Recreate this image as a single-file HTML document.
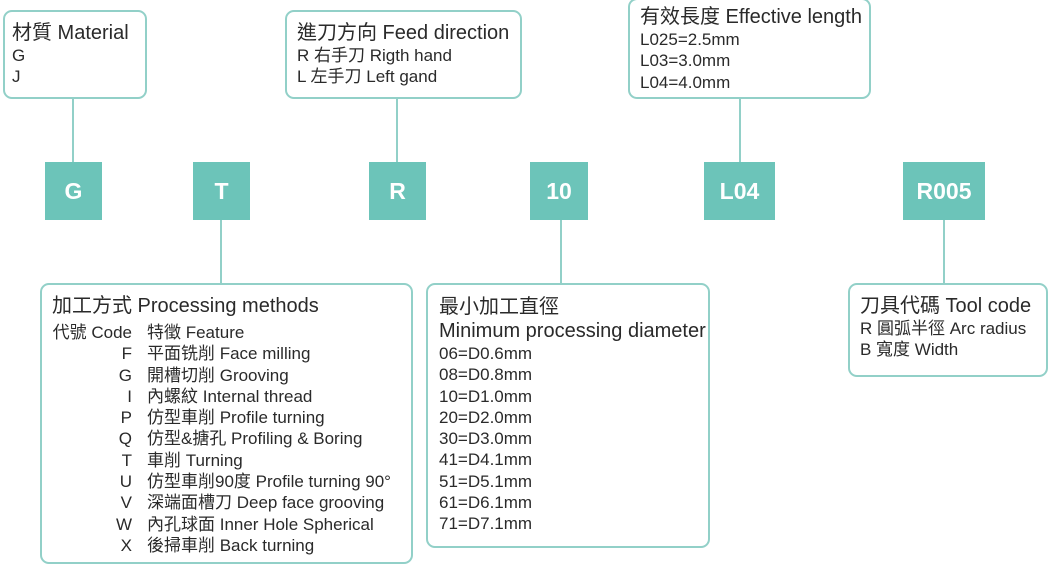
<!DOCTYPE html>
<html><head><meta charset="utf-8"><style>
body{margin:0;width:1050px;height:566px;background:#fff;position:relative;overflow:hidden;font-family:"Liberation Sans","Noto Sans CJK TC",sans-serif;color:#2a2a2a}
.b{position:absolute;border:2px solid #92d0c8;border-radius:9px;box-sizing:border-box;background:#fff}
.sq{position:absolute;background:#6cc4b9;color:#fff;font-weight:bold;font-size:23px;display:flex;align-items:center;justify-content:center;top:162px;height:58px}
.l{position:absolute;width:2px;background:#92d0c8}
.t{position:absolute;white-space:nowrap;font-size:17px;line-height:21.3px}
.h{font-size:20px;line-height:24px}
</style></head><body>
<div class="l" style="left:72px;top:97px;height:66px"></div>
<div class="l" style="left:396px;top:97px;height:66px"></div>
<div class="l" style="left:739px;top:97px;height:66px"></div>
<div class="l" style="left:220px;top:219px;height:65px"></div>
<div class="l" style="left:560px;top:219px;height:65px"></div>
<div class="l" style="left:943px;top:219px;height:65px"></div>

<div class="b" style="left:3px;top:10px;width:144px;height:89px"></div>
<div class="t" style="left:12px;top:21px"><div class="h">材質 Material</div>G<br>J</div>

<div class="b" style="left:285px;top:10px;width:237px;height:89px"></div>
<div class="t" style="left:297px;top:21px"><div class="h">進刀方向 Feed direction</div>R 右手刀 Rigth hand<br>L 左手刀 Left gand</div>

<div class="b" style="left:628px;top:-2px;width:243px;height:101px"></div>
<div class="t" style="left:640px;top:5px"><div class="h">有效長度 Effective length</div>L025=2.5mm<br>L03=3.0mm<br>L04=4.0mm</div>

<div class="sq" style="left:45px;width:57px">G</div>
<div class="sq" style="left:193px;width:57px">T</div>
<div class="sq" style="left:369px;width:57px">R</div>
<div class="sq" style="left:530px;width:58px">10</div>
<div class="sq" style="left:704px;width:71px">L04</div>
<div class="sq" style="left:903px;width:82px">R005</div>

<div class="b" style="left:40px;top:283px;width:373px;height:281px"></div>
<div class="t" style="left:52px;top:294px"><div class="h">加工方式 Processing methods</div></div>
<div class="t" style="left:42px;top:322px;text-align:right;width:90px">代號 Code<br>F<br>G<br>I<br>P<br>Q<br>T<br>U<br>V<br>W<br>X</div>
<div class="t" style="left:147px;top:322px">特徵 Feature<br>平面铣削 Face milling<br>開槽切削 Grooving<br>內螺紋 Internal thread<br>仿型車削 Profile turning<br>仿型&amp;搪孔 Profiling &amp; Boring<br>車削 Turning<br>仿型車削90度 Profile turning 90°<br>深端面槽刀 Deep face grooving<br>內孔球面 Inner Hole Spherical<br>後掃車削 Back turning</div>

<div class="b" style="left:426px;top:283px;width:284px;height:265px"></div>
<div class="t" style="left:439px;top:295px"><div class="h">最小加工直徑</div><div class="h">Minimum processing diameter</div>06=D0.6mm<br>08=D0.8mm<br>10=D1.0mm<br>20=D2.0mm<br>30=D3.0mm<br>41=D4.1mm<br>51=D5.1mm<br>61=D6.1mm<br>71=D7.1mm</div>

<div class="b" style="left:848px;top:283px;width:200px;height:94px"></div>
<div class="t" style="left:860px;top:294px"><div class="h">刀具代碼 Tool code</div>R 圓弧半徑 Arc radius<br>B 寬度 Width</div>
</body></html>
